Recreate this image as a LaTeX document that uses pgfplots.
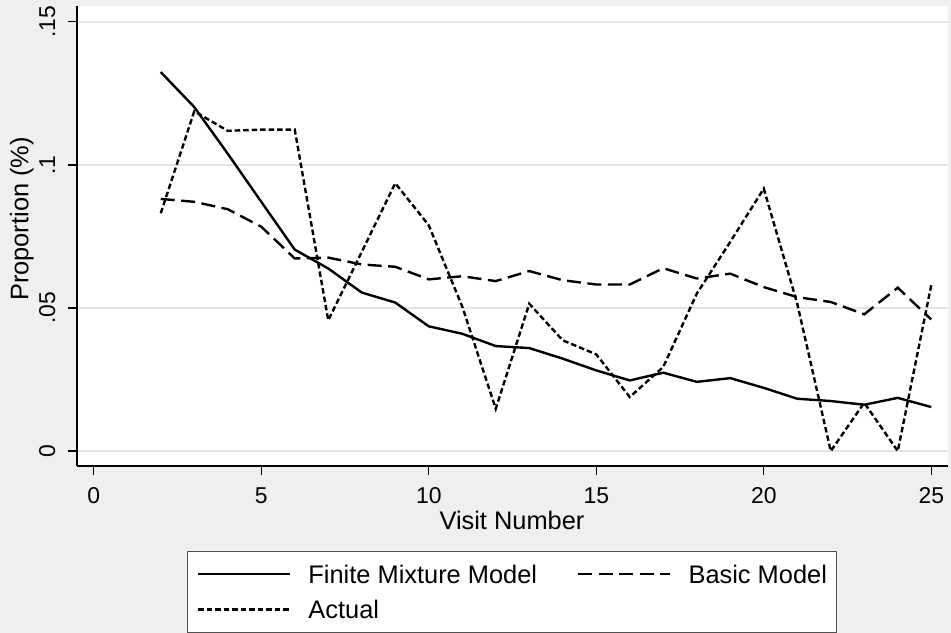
\documentclass[border=0pt]{standalone}
\usepackage{pgfplots}
\pgfplotsset{compat=1.18}
\usepackage{fontspec}
\setmainfont{Liberation Sans}
\definecolor{bg}{RGB}{239,239,239}
\definecolor{gridc}{RGB}{228,228,228}
\definecolor{legb}{RGB}{80,80,80}

\pgfplotstableread{
x fmm basic actual
2 0.1324 0.0881 0.0831
3 0.1202 0.0871 0.1187
4 0.1039 0.0845 0.1119
5 0.0871 0.0784 0.1123
6 0.0704 0.0673 0.1123
7 0.0638 0.0676 0.0457
8 0.0554 0.0652 0.0696
9 0.0519 0.0644 0.0936
10 0.0436 0.0600 0.0789
11 0.0410 0.0611 0.0505
12 0.0367 0.0594 0.0148
13 0.0360 0.0629 0.0515
14 0.0323 0.0597 0.0387
15 0.0282 0.0582 0.0338
16 0.0247 0.0582 0.0189
17 0.0274 0.0639 0.0294
18 0.0242 0.0603 0.0550
19 0.0255 0.0620 0.0731
20 0.0221 0.0573 0.0917
21 0.0183 0.0538 0.0515
22 0.0175 0.0521 0.0000
23 0.0162 0.0478 0.0169
24 0.0186 0.0571 0.0000
25 0.0154 0.0460 0.0580
}\datatable

\begin{document}
\begin{tikzpicture}[x=1bp,y=1bp]
\fill[bg] (0,0) rectangle (951,-633);
\begin{axis}[
  at={(77bp,-466bp)}, anchor=south west, scale only axis,
  width=871bp, height=460bp,
  xmin=-0.5, xmax=25.5, ymin=-0.0052, ymax=0.1555,
  axis x line*=bottom, axis y line*=left,
  axis line style={line width=1.3bp, -},
  axis background/.style={fill=white},
  xtick={0,5,10,15,20,25},
  ytick={0,0.05,0.1,0.15},
  yticklabels={0,.05,.1,.15},
  ymajorgrids, grid style={gridc, line width=2bp},
  tick align=outside, major tick length=9bp,
  tick style={black, line width=1.3bp},
  /pgf/number format/assume math mode=true,
  every tick label/.append style={font=\fontsize{23}{27}\selectfont},
  xticklabel style={anchor=base},
  xticklabel shift=28.3bp,
  yticklabel style={rotate=90, anchor=base},
  yticklabel shift=13bp,
  xlabel={Visit Number},
  ylabel={Proportion (\%)},
  label style={font=\fontsize{25.5}{30}\selectfont},
  xlabel style={at={(axis description cs:0.4994,-0.1391)}, anchor=base},
  ylabel style={at={(axis description cs:-0.0557,0.537)}, anchor=base, rotate=0},
  legend columns=2,
  legend cell align=left,
  legend image code/.code={\draw[#1] (0bp,0bp) -- (92bp,0bp);},
  legend style={at={(0.4994,-0.1841)}, anchor=north, draw=legb, line width=1.2bp,
    fill=white, font=\fontsize{25.5}{30}\selectfont,
    inner xsep=9.5bp, inner ysep=13.5bp,
    nodes={inner sep=0pt, text height=18.3bp, text depth=0bp},
    row sep=17.4bp,
    /tikz/every odd column/.append style={column sep=17bp},
    /tikz/every even column/.append style={column sep=40bp}},
]
\addplot[black, line width=2.4bp, mark=none] table[x=x,y=fmm]{\datatable};
\addlegendentry{Finite Mixture Model}
\addplot[black, line width=2.4bp, mark=none, dash pattern=on 14bp off 6.5bp] table[x=x,y=basic]{\datatable};
\addlegendentry{Basic Model}
\addplot[black, line width=2.4bp, mark=none, dash pattern=on 5.5bp off 3bp] table[x=x,y=actual]{\datatable};
\addlegendentry{Actual}
\end{axis}
\pgfresetboundingbox
\path[use as bounding box] (0,0) rectangle (951,-633);
\end{tikzpicture}
\end{document}
